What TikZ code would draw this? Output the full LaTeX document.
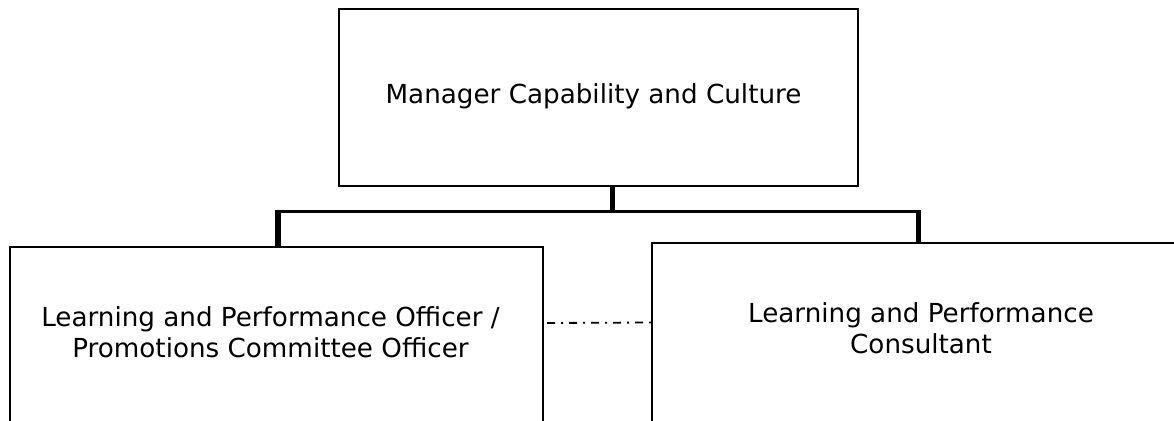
\documentclass[tikz,border=0pt]{standalone}
\usepackage{fontspec}
\setmainfont{DejaVu Sans}
\begin{document}
\begin{tikzpicture}[x=1pt,y=-1pt,
  box/.style={draw=black,line width=1.4pt,fill=white,rectangle,inner sep=0pt},
  lbl/.style={font=\fontsize{26.2}{30.5}\selectfont,align=center,inner sep=0pt,anchor=base},
  stem/.style={line width=5.2pt},
  bar/.style={line width=3.4pt},
  peer/.style={line width=1.8pt,dash pattern=on 8pt off 6pt on 2pt off 6pt,shorten <=3.5pt}]
\useasboundingbox (0,0) rectangle (1174,420);
\clip (0,0) rectangle (1174,420);
\fill[white] (0,0) rectangle (1174,420);
% boxes
\node[box,minimum width=519pt,minimum height=177pt] (mgr) at (598.5,97.5) {};
\node[box,minimum width=533pt,minimum height=200pt] (lpo) at (276.5,347) {};
\node[box,minimum width=540pt,minimum height=200pt] (lpc) at (922,343) {};
% labels, placed on their last baseline
\node[lbl] (mgrt) at (593.5,103) {Manager Capability and Culture};
\node[lbl] (lpot) at (270.5,357) {Learning and Performance Officer /\\Promotions Committee Officer};
\node[lbl] (lpct) at (921,353) {Learning and Performance\\Consultant};
% reporting lines
\coordinate (bus) at (612.5,211.7);
\coordinate (busl) at (278,211.7);
\coordinate (busr) at (918.5,211.7);
\draw[bar] ([xshift=-2.6pt]busl) -- ([xshift=2.6pt]busr);
\draw[stem] (mgr.south -| bus) -- ([yshift=1.7pt]bus);
\draw[stem] ([yshift=-1.7pt]busl) -- (lpo.north -| busl);
\draw[stem] ([yshift=-1.7pt]busr) -- (lpc.north -| busr);
% working relationship between the two roles
\draw[peer] (lpo.east |- 0,323) -- (lpc.west |- 0,322.5);
\end{tikzpicture}
\end{document}
